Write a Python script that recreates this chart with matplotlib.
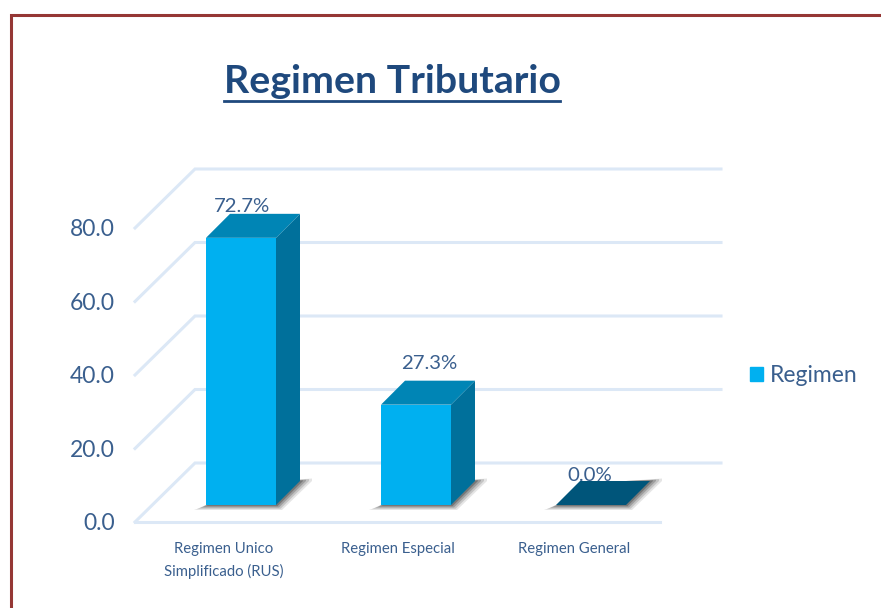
import matplotlib
matplotlib.use("Agg")
import matplotlib.pyplot as plt
from matplotlib.lines import Line2D
from matplotlib.patches import Patch

categories = ["Regimen Unico\nSimplificado (RUS)", "Regimen Especial", "Regimen General"]
values = [72.7, 27.3, 0.0]
value_labels = ["72.7%", "27.3%", "0.0%"]
y_ticks = [0, 20, 40, 60, 80]
y_tick_labels = ["0.0", "20.0", "40.0", "60.0", "80.0"]
legend_name = "Regimen"

BAR_FRONT = "#00b0f0"
BAR_SIDE = "#00709b"
BAR_TOP = "#0085b5"
BAR_FLAT = "#00557a"
GRID = "#dce8f6"
TEXT = "#3a5f8e"
TITLE = "#1f497d"
BORDER = "#953735"
FONT = "Lato"

W, H = 881, 608
PX_X = 175.0  # pixels per category
PX_Y = 3.675  # pixels per value unit

fig = plt.figure(figsize=(W / 100, H / 100), dpi=100)
ax = fig.add_axes([0, 0, 1, 1])
ax.set_xlim(-241 / PX_X, (W - 241) / PX_X)
ax.set_ylim(-(H - 505) / PX_Y, 505 / PX_Y)
ax.axis("off")

bar_w = 70 / PX_X
depth_x, depth_y = 24 / PX_X, 24 / PX_Y
wall_x, wall_y = 60 / PX_X, 59 / PX_Y
floor_y = -17 / PX_Y
left = (135 - 241) / PX_X
right_front = (660 - 241) / PX_X
right_back = (721 - 241) / PX_X

# back wall + side wall gridlines
for t in y_ticks:
    ax.plot([left, left + wall_x, right_back],
            [t + floor_y, t + floor_y + wall_y, t + floor_y + wall_y],
            color=GRID, lw=2.2, solid_joinstyle="miter", zorder=1)
ax.plot([left, right_front], [floor_y, floor_y], color=GRID, lw=2.2, zorder=1)

for t, lab in zip(y_ticks, y_tick_labels):
    ax.text((115 - 241) / PX_X, t + floor_y - 0.5, lab, ha="right", va="center",
            fontsize=16.5, color=TEXT, family=FONT)

# labels sit under the bars, the bar tops clip them a little
label_dx = [1 / PX_X, 13 / PX_X, -1 / PX_X]
label_dy = [8.4, 11.2, 8.0]
for i, v in enumerate(values):
    ax.text(i + label_dx[i], v + label_dy[i], value_labels[i], ha="center", va="center",
            fontsize=14.7, color=TEXT, family=FONT, zorder=2)

for i, v in enumerate(values):
    x0 = i - bar_w / 2
    x1 = i + bar_w / 2
    # soft floor shadow
    for grow, alpha in [(1.0, 0.12), (0.75, 0.18), (0.5, 0.25), (0.25, 0.35)]:
        gx = grow * 12 / PX_X
        gy = grow * 5 / PX_Y
        ax.fill([x0 - gx, x1 + gx / 2, x1 + depth_x + gx, x1 + depth_x + gx, x1],
                [-gy, -gy, depth_y, depth_y + gy / 2, depth_y],
                color="#303030", alpha=alpha, lw=0, zorder=3)
    if v == 0:
        ax.fill([x0, x1, x1 + depth_x, x0 + depth_x], [0, 0, depth_y, depth_y],
                color=BAR_FLAT, lw=0, zorder=4)
        continue
    ax.fill([x1, x1 + depth_x, x1 + depth_x, x1], [0, depth_y, v + depth_y, v],
            color=BAR_SIDE, lw=0, zorder=4)
    ax.fill([x0, x1, x1 + depth_x, x0 + depth_x], [v, v, v + depth_y, v + depth_y],
            color=BAR_TOP, lw=0, zorder=4)
    ax.bar(i, v, width=bar_w, color=BAR_FRONT, zorder=5)

cat_dx = [-17 / PX_X, -18 / PX_X, -17 / PX_X]
for i, name in enumerate(categories):
    ax.text(i + cat_dx[i], -(542 - 505) / PX_Y, name, ha="center", va="top",
            fontsize=10.7, color=TEXT, family=FONT, linespacing=1.65)

fig.text(392 / W, 1 - 93 / H, "Regimen Tributario", ha="center", va="baseline",
         fontsize=28.3, fontweight="bold", color=TITLE, family=FONT)
fig.add_artist(Line2D([224 / W, 560 / W], [1 - 101 / H, 1 - 101 / H], color=TITLE, lw=2))

leg = ax.legend(handles=[Patch(color=BAR_FRONT, label=legend_name)],
                loc="center left", bbox_to_anchor=(750 / W, 1 - 376 / H), frameon=False,
                borderpad=0, borderaxespad=0,
                handlelength=0.57, handleheight=0.57, handletextpad=0.3,
                prop={"family": FONT, "size": 16.5})
for txt in leg.get_texts():
    txt.set_color(TEXT)

# frame: only top and left edges are inside the picture
fig.add_artist(Line2D([10.5 / W, 10.5 / W, 1], [0, 1 - 15 / H, 1 - 15 / H], color=BORDER,
                      lw=2.2, solid_joinstyle="miter"))

fig.savefig("out.png", dpi=100)
